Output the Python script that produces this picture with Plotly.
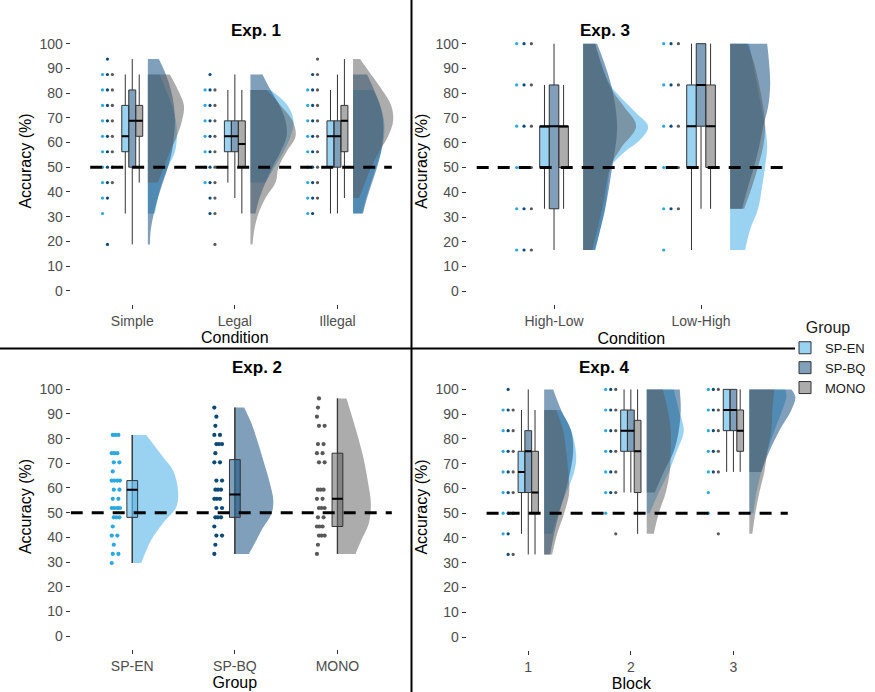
import plotly.graph_objects as go

# ---------------- common ----------------
GROUPS = ["SP-EN", "SP-BQ", "MONO"]
FILL = {"SP-EN": "rgba(86,180,233,0.6)", "SP-BQ": "rgba(22,80,130,0.55)", "MONO": "rgba(90,90,90,0.5)"}
DOT = {"SP-EN": "#29A9E1", "SP-BQ": "#0D4A77", "MONO": "#595959"}
Y_TICKS = [0, 10, 20, 30, 40, 50, 60, 70, 80, 90, 100]
CHANCE = 50

# ---------------- Exp. 1 ----------------
E1_CATS = ["Simple", "Legal", "Illegal"]
E1_Q1 = {"SP-EN": [56.25, 56.25, 50.0], "SP-BQ": [50.0, 56.25, 50.0], "MONO": [62.5, 50.0, 56.25]}
E1_MED = {"SP-EN": [62.5, 62.5, 62.5], "SP-BQ": [68.75, 62.5, 62.5], "MONO": [68.75, 59.375, 68.75]}
E1_Q3 = {"SP-EN": [75.0, 68.75, 68.75], "SP-BQ": [81.25, 68.75, 68.75], "MONO": [75.0, 68.75, 75.0]}
E1_LO = {"SP-EN": [31.25, 43.75, 31.25], "SP-BQ": [18.75, 37.5, 31.25], "MONO": [43.75, 31.25, 37.5]}
E1_HI = {"SP-EN": [87.5, 81.25, 81.25], "SP-BQ": [93.75, 87.5, 87.5], "MONO": [87.5, 81.25, 93.75]}
E1_DOTS = {
    "SP-EN": [[31.25, 37.5, 43.75, 50, 56.25, 62.5, 68.75, 75, 81.25, 87.5],
              [43.75, 50, 56.25, 62.5, 68.75, 75, 81.25],
              [31.25, 37.5, 43.75, 50, 56.25, 62.5, 68.75, 75, 81.25]],
    "SP-BQ": [[18.75, 37.5, 43.75, 50, 56.25, 62.5, 68.75, 75, 81.25, 87.5, 93.75],
              [31.25, 37.5, 43.75, 50, 56.25, 62.5, 68.75, 75, 81.25, 87.5],
              [31.25, 37.5, 43.75, 50, 56.25, 62.5, 68.75, 75, 81.25, 87.5]],
    "MONO": [[43.75, 50, 56.25, 62.5, 68.75, 75, 81.25, 87.5],
             [18.75, 31.25, 37.5, 43.75, 50, 56.25, 62.5, 68.75, 75, 81.25],
             [37.5, 43.75, 50, 56.25, 62.5, 68.75, 75, 81.25, 87.5, 93.75]],
}
# half-violin profiles: accuracy levels and relative density (width)
E1_VY = {
    "SP-EN": [[31.25, 37.5, 43.75, 50, 56.25, 62.5, 68.75, 75, 81.25, 87.5],
              [43.75, 50, 56.25, 62.5, 68.75, 75, 81.25],
              [31.25, 37.5, 43.75, 50, 56.25, 62.5, 68.75, 75, 81.25]],
    "SP-BQ": [[18.75, 25, 31.25, 37.5, 43.75, 50, 56.25, 62.5, 68.75, 75, 81.25, 87.5, 93.75],
              [31.25, 37.5, 43.75, 50, 56.25, 62.5, 68.75, 75, 81.25, 87.5],
              [31.25, 37.5, 43.75, 50, 56.25, 62.5, 68.75, 75, 81.25, 87.5]],
    "MONO": [[43.75, 50, 56.25, 62.5, 68.75, 75, 81.25, 87.5],
             [18.75, 25, 31.25, 37.5, 43.75, 50, 56.25, 62.5, 68.75, 75, 81.25],
             [37.5, 43.75, 50, 56.25, 62.5, 68.75, 75, 81.25, 87.5, 93.75]],
}
E1_VW = {
    "SP-EN": [[7, 10, 14, 20, 27, 29, 28, 24, 18, 12],
              [15, 24, 33, 40, 43, 37, 20],
              [9, 13, 18, 23, 28, 31, 31, 27, 20]],
    "SP-BQ": [[2, 3, 6, 10, 15, 20, 24, 26, 27, 26, 23, 18, 11],
              [5, 9, 15, 22, 30, 36, 35, 29, 20, 12],
              [10, 14, 19, 24, 28, 30, 30, 27, 21, 14]],
    "MONO": [[10, 16, 22, 29, 34, 36, 30, 22],
             [2, 4, 8, 15, 25, 28, 36, 45, 42, 30, 16],
             [6, 12, 18, 26, 35, 40, 38, 29, 18, 7]],
}

# ---------------- Exp. 2 ----------------
E2_CATS = ["SP-EN", "SP-BQ", "MONO"]
E2_VALUES = {
    "SP-EN": [81.5, 81.5, 81.5, 74.1, 74.1, 74.1, 70.4, 70.4, 66.7, 63.0, 63.0, 63.0, 63.0,
              59.3, 59.3, 55.6, 55.6, 51.9, 51.9, 51.9, 51.9, 48.1, 48.1, 48.1, 44.4,
              40.7, 40.7, 37.0, 33.3, 33.3, 29.6],
    "SP-BQ": [92.6, 88.9, 85.2, 81.5, 81.5, 77.8, 77.8, 77.8, 74.1, 70.4, 70.4, 63.0, 63.0,
              59.3, 59.3, 59.3, 55.6, 55.6, 55.6, 51.9, 51.9, 48.1, 48.1, 48.1, 44.4,
              40.7, 40.7, 37.0, 33.3],
    "MONO": [96.3, 92.6, 88.9, 85.2, 85.2, 77.8, 77.8, 74.1, 74.1, 70.4, 70.4, 59.3, 59.3, 59.3,
             55.6, 55.6, 51.9, 51.9, 51.9, 48.1, 48.1, 44.4, 44.4, 44.4, 40.7, 40.7, 40.7,
             37.0, 33.3],
}
E2_Q1 = [48.1, 48.1, 44.4]
E2_MED = [59.3, 57.4, 55.6]
E2_Q3 = [63.0, 71.5, 74.1]
E2_LO = [29.6, 33.3, 33.3]
E2_HI = [81.5, 92.6, 96.3]
E2_VY = {
    "SP-EN": [29.6, 32.3, 39, 45.7, 52.4, 59.2, 67.2, 72.6, 81.5],
    "SP-BQ": [33.3, 37.7, 43, 49.8, 55.1, 61.8, 69.9, 78, 86, 92.6],
    "MONO": [33.3, 39, 45.7, 53.8, 61.8, 72.6, 86, 96.3],
}
E2_VW = {
    "SP-EN": [9, 11.6, 19, 30.6, 44, 45.6, 40.6, 30.6, 14],
    "SP-BQ": [14, 20, 26.7, 36.7, 38.3, 35, 29.3, 23.3, 16.7, 9.3],
    "MONO": [18, 24, 31.3, 33.3, 30.7, 25.7, 16.7, 9],
}

# ---------------- Exp. 3 ----------------
E3_CATS = ["High-Low", "Low-High"]
E3_Q1 = {"SP-EN": [50.0, 50.0], "SP-BQ": [33.33, 66.67], "MONO": [50.0, 50.0]}
E3_MED = {"SP-EN": [66.67, 66.67], "SP-BQ": [66.67, 83.33], "MONO": [66.67, 66.67]}
E3_Q3 = {"SP-EN": [66.67, 83.33], "SP-BQ": [83.33, 100.0], "MONO": [66.67, 83.33]}
E3_LO = {"SP-EN": [33.33, 16.67], "SP-BQ": [16.67, 33.33], "MONO": [33.33, 33.33]}
E3_HI = {"SP-EN": [83.33, 100.0], "SP-BQ": [100.0, 100.0], "MONO": [83.33, 100.0]}
E3_DOTS = {
    "SP-EN": [[16.67, 33.33, 50, 66.67, 83.33, 100], [16.67, 33.33, 50, 66.67, 83.33, 100]],
    "SP-BQ": [[16.67, 33.33, 50, 66.67, 83.33, 100], [33.33, 50, 66.67, 83.33, 100]],
    "MONO": [[16.67, 33.33, 50, 66.67, 83.33, 100], [33.33, 50, 66.67, 83.33, 100]],
}
E3_VY = {
    "SP-EN": [[16.67, 25, 33.33, 43.7, 50.4, 55.8, 61.2, 66.5, 72.4, 78.6, 83.33, 92, 100],
              [16.67, 25, 33.33, 42.4, 50.4, 58.5, 66.5, 74.6, 83.33, 92, 100]],
    "SP-BQ": [[16.67, 33.33, 50, 66.67, 83.33, 100],
              [33.33, 42.4, 50.4, 58.5, 66.5, 74.6, 83.33, 92, 100]],
    "MONO": [[16.67, 33.33, 50, 58, 66.67, 75, 83.33, 100],
             [33.33, 42.4, 50.4, 58.5, 66.5, 74.6, 83.33, 92, 100]],
}
E3_VW = {
    "SP-EN": [[12, 17, 22, 25, 28, 40, 57, 65, 52, 37, 27, 18, 12],
              [15, 20, 28, 32, 35, 37, 35, 31, 27, 23, 19]],
    "SP-BQ": [[12, 22, 29, 34, 28, 14],
              [12, 18, 24, 29, 33, 38, 40, 39, 37]],
    "MONO": [[9, 19, 27, 38, 53, 40, 26, 12],
             [14, 22, 28, 33, 35, 33, 29, 24, 17]],
}

# ---------------- Exp. 4 ----------------
E4_CATS = ["1", "2", "3"]
E4_Q1 = {"SP-EN": [58.33, 75.0, 83.33], "SP-BQ": [58.33, 75.0, 83.33], "MONO": [50.0, 58.33, 75.0]}
E4_MED = {"SP-EN": [66.67, 83.33, 91.67], "SP-BQ": [75.0, 83.33, 91.67], "MONO": [58.33, 75.0, 83.33]}
E4_Q3 = {"SP-EN": [75.0, 91.67, 100.0], "SP-BQ": [83.33, 91.67, 100.0], "MONO": [75.0, 87.5, 91.67]}
E4_LO = {"SP-EN": [41.67, 58.33, 66.67], "SP-BQ": [33.33, 58.33, 66.67], "MONO": [33.33, 41.67, 66.67]}
E4_HI = {"SP-EN": [91.67, 100.0, 100.0], "SP-BQ": [100.0, 100.0, 100.0], "MONO": [91.67, 100.0, 100.0]}
E4_DOTS = {
    "SP-EN": [[41.67, 50, 58.33, 66.67, 75, 83.33, 91.67],
              [50, 58.33, 66.67, 75, 83.33, 91.67, 100],
              [50, 58.33, 66.67, 75, 83.33, 91.67, 100]],
    "SP-BQ": [[33.33, 41.67, 50, 58.33, 66.67, 75, 83.33, 91.67, 100],
              [58.33, 66.67, 75, 83.33, 91.67, 100],
              [66.67, 75, 83.33, 91.67, 100]],
    "MONO": [[33.33, 50, 58.33, 66.67, 75, 83.33, 91.67],
             [41.67, 58.33, 66.67, 75, 83.33, 91.67, 100],
             [41.67, 66.67, 75, 83.33, 91.67, 100]],
}
E4_VY = {
    "SP-EN": [[41.67, 50, 58.33, 66.67, 73.4, 83.33, 91.67],
              [50, 58.33, 66.67, 75, 83.33, 91.67, 100],
              [50, 58.33, 66.67, 75, 83.33, 91.67, 97, 100]],
    "SP-BQ": [[33.33, 41.67, 50, 58.33, 66.67, 75, 83.33, 91.67, 100],
              [58.33, 66.67, 75, 83.33, 91.67, 100],
              [66.67, 75, 83.33, 91.67, 97, 100]],
    "MONO": [[33.33, 41.67, 50, 58.33, 66.67, 75, 83.33, 91.67],
             [41.67, 50, 58.33, 66.67, 75, 83.33, 91.67, 100],
             [41.67, 50, 58.33, 66.67, 75, 83.33, 91.67, 100]],
}
E4_VW = {
    "SP-EN": [[8, 14, 22, 30, 32, 27, 16],
              [3, 12, 22, 30, 37, 32, 27],
              [4, 7, 12, 18, 25, 33, 37, 36]],
    "SP-BQ": [[6, 10, 15, 21, 26, 29, 27, 17, 9],
              [8, 17, 27, 32, 34, 33],
              [12, 20, 30, 42, 46, 42]],
    "MONO": [[8, 13, 20, 25, 24, 22, 19, 12],
             [7, 12, 19, 23, 24, 24, 21, 16],
             [3, 6, 10, 15, 18, 22, 23, 25]],
}

FONT = "Liberation Sans, Arial, sans-serif"
fig = go.Figure()


def add_violin(x0, ys, ws, scale, color, xa, ya):
    fig.add_trace(go.Scatter(x=[x0, x0], y=[ys[0], ys[-1]], mode="lines",
                             line=dict(width=0, color=color), showlegend=False,
                             hoverinfo="skip", xaxis=xa, yaxis=ya))
    fig.add_trace(go.Scatter(x=[x0 + w * scale for w in ws], y=ys, mode="lines",
                             line=dict(width=0, color=color, shape="spline", smoothing=1.0),
                             fill="tonextx", fillcolor=color, showlegend=False,
                             hoverinfo="skip", xaxis=xa, yaxis=ya))


def dodged_panel(xa, ya, ncat, dots, q1, med, q3, lo, hi, vy, vw, p, legend):
    for g in GROUPS:
        for ci in range(ncat):
            add_violin(ci + 1 + p["voff"], vy[g][ci], vw[g][ci], p["scale"], FILL[g], xa, ya)
    mx, my = [], []
    for gi, g in enumerate(GROUPS):
        xs = [c + (gi - 1) * p["boff"] for c in range(1, ncat + 1)]
        fig.add_trace(go.Box(x=xs, q1=q1[g], median=med[g], q3=q3[g],
                             lowerfence=lo[g], upperfence=hi[g], width=p["bw"],
                             fillcolor=FILL[g], line=dict(color="#333333", width=1),
                             whiskerwidth=0, name=g, legendgroup=g, showlegend=legend,
                             hoverinfo="skip", xaxis=xa, yaxis=ya, zorder=2))
        for x, m in zip(xs, med[g]):
            mx += [x - p["bw"] / 2, x + p["bw"] / 2, None]
            my += [m, m, None]
        dx, dy = [], []
        for ci in range(ncat):
            for v in dots[g][ci]:
                dx.append(ci + 1 + p["dot0"] + gi * p["dstep"])
                dy.append(v)
        fig.add_trace(go.Scatter(x=dx, y=dy, mode="markers",
                                 marker=dict(size=3.2, color=DOT[g]), showlegend=False,
                                 hoverinfo="skip", xaxis=xa, yaxis=ya, zorder=4))
    fig.add_trace(go.Scatter(x=mx, y=my, mode="lines", line=dict(color="black", width=2),
                             showlegend=False, hoverinfo="skip", xaxis=xa, yaxis=ya, zorder=3))
    fig.add_trace(go.Scatter(x=p["hline"], y=[CHANCE, CHANCE], mode="lines",
                             line=dict(color="black", width=3, dash="12px,9px"),
                             showlegend=False, hoverinfo="skip", xaxis=xa, yaxis=ya, zorder=5))


dodged_panel("x", "y", 3, E1_DOTS, E1_Q1, E1_MED, E1_Q3, E1_LO, E1_HI, E1_VY, E1_VW,
             dict(voff=0.152, scale=1 / 102.3, boff=0.068, bw=0.068, dot0=-0.29, dstep=0.048,
                  hline=[0.59, 3.53]), True)
dodged_panel("x2", "y2", 2, E3_DOTS, E3_Q1, E3_MED, E3_Q3, E3_LO, E3_HI, E3_VY, E3_VW,
             dict(voff=0.198, scale=1 / 147.0, boff=0.065, bw=0.065, dot0=-0.254, dstep=0.05,
                  hline=[0.474, 2.59]), False)
dodged_panel("x4", "y4", 3, E4_DOTS, E4_Q1, E4_MED, E4_Q3, E4_LO, E4_HI, E4_VY, E4_VW,
             dict(voff=0.155, scale=1 / 102.5, boff=0.066, bw=0.066, dot0=-0.245, dstep=0.049,
                  hline=[0.594, 3.53]), False)

# Exp 2 (one group per category)
E2_BW = 0.105
SPREAD = [0.0, 0.055, 0.025, 0.08, 0.04]
mx, my = [], []
for gi, g in enumerate(GROUPS):
    c = gi + 1
    add_violin(c, E2_VY[g], E2_VW[g], 1 / 102.3, FILL[g], "x3", "y3")
    fig.add_trace(go.Scatter(x=[c, c], y=[E2_LO[gi], E2_HI[gi]], mode="lines",
                             line=dict(color="#4D4D4D", width=1.3), showlegend=False,
                             hoverinfo="skip", xaxis="x3", yaxis="y3", zorder=1))
    fig.add_trace(go.Box(x=[c], q1=[E2_Q1[gi]], median=[E2_MED[gi]], q3=[E2_Q3[gi]],
                         lowerfence=[E2_LO[gi]], upperfence=[E2_HI[gi]], width=E2_BW,
                         fillcolor=FILL[g], line=dict(color="#333333", width=1),
                         whiskerwidth=0, name=g, legendgroup=g, showlegend=False,
                         hoverinfo="skip", xaxis="x3", yaxis="y3", zorder=2))
    mx += [c - E2_BW / 2, c + E2_BW / 2, None]
    my += [E2_MED[gi], E2_MED[gi], None]
    dx, dy = [], []
    levels = sorted(set(E2_VALUES[g]))
    for li, v in enumerate(levels):
        k = E2_VALUES[g].count(v)
        for j in range(k):
            dx.append(c - 0.2 + (li % 3) * 0.01 + SPREAD[j])
            dy.append(v)
    fig.add_trace(go.Scatter(x=dx, y=dy, mode="markers", marker=dict(size=4.2, color=DOT[g]),
                             showlegend=False, hoverinfo="skip", xaxis="x3", yaxis="y3", zorder=4))
fig.add_trace(go.Scatter(x=mx, y=my, mode="lines", line=dict(color="black", width=2),
                         showlegend=False, hoverinfo="skip", xaxis="x3", yaxis="y3", zorder=3))
fig.add_trace(go.Scatter(x=[0.4, 3.53], y=[CHANCE, CHANCE], mode="lines",
                         line=dict(color="black", width=3, dash="12px,9px"),
                         showlegend=False, hoverinfo="skip", xaxis="x3", yaxis="y3", zorder=5))

W, H = 875, 692


def xdom(a, b):
    return [a / W, b / W]


def ydom(top, bottom):
    return [1 - bottom / H, 1 - top / H]


def xaxis(dom, anchor, rng, labels, title):
    return dict(domain=dom, anchor=anchor, range=rng, tickmode="array",
                tickvals=list(range(1, len(labels) + 1)), ticktext=labels,
                showline=True, linecolor="#333333", linewidth=1, ticks="outside", ticklen=4,
                tickcolor="#333333", tickfont=dict(size=14, color="#4D4D4D", family=FONT),
                title=dict(text=title, font=dict(size=16, color="black", family=FONT), standoff=4),
                showgrid=False, zeroline=False, automargin=False, fixedrange=True)


def yaxis(dom, anchor):
    return dict(domain=dom, anchor=anchor, range=[-5.25, 110.25], tickmode="array",
                tickvals=Y_TICKS, ticktext=[str(t) for t in Y_TICKS],
                showline=True, linecolor="#333333", linewidth=1, ticks="outside", ticklen=4,
                tickcolor="#333333", tickfont=dict(size=14, color="#4D4D4D", family=FONT),
                title=dict(text="Accuracy (%)", font=dict(size=16, color="black", family=FONT),
                           standoff=3),
                showgrid=False, zeroline=False, automargin=False, fixedrange=True)


fig.update_layout(
    width=W, height=H, margin=dict(l=0, r=0, t=0, b=0),
    paper_bgcolor="white", plot_bgcolor="white",
    font=dict(family=FONT, color="black"),
    boxmode="overlay",
    xaxis=xaxis(xdom(70.7, 399), "y", [0.4, 3.6], E1_CATS, "Condition"),
    yaxis=yaxis(ydom(18.3, 303.7), "x"),
    xaxis2=xaxis(xdom(466.7, 796), "y2", [0.406, 2.646], E3_CATS, "Condition"),
    yaxis2=yaxis(ydom(18.3, 304.3), "x2"),
    xaxis3=xaxis(xdom(70.7, 399), "y3", [0.4, 3.6], E2_CATS, "Group"),
    yaxis3=yaxis(ydom(364, 649), "x3"),
    xaxis4=xaxis(xdom(466.7, 796), "y4", [0.4, 3.61], E4_CATS, "Block"),
    yaxis4=yaxis(ydom(364, 650), "x4"),
    legend=dict(title=dict(text="Group", font=dict(size=16, family=FONT), side="top center"),
                x=785 / W, y=1 - 312 / H, xanchor="left", yanchor="top",
                font=dict(size=13, family=FONT, color="#1a1a1a"),
                bgcolor="rgba(0,0,0,0)", tracegroupgap=0),
    annotations=[
        dict(text="<b>Exp. 1</b>", x=229 / W, y=1 - 19 / H, xref="paper", yref="paper",
             showarrow=False, font=dict(size=17, family=FONT)),
        dict(text="<b>Exp. 3</b>", x=631.7 / W, y=1 - 19 / H, xref="paper", yref="paper",
             showarrow=False, font=dict(size=17, family=FONT)),
        dict(text="<b>Exp. 2</b>", x=229.5 / W, y=1 - 368 / H, xref="paper", yref="paper",
             showarrow=False, font=dict(size=17, family=FONT)),
        dict(text="<b>Exp. 4</b>", x=632 / W, y=1 - 367.5 / H, xref="paper", yref="paper",
             showarrow=False, font=dict(size=17, family=FONT)),
    ],
    shapes=[
        dict(type="line", xref="paper", yref="paper", x0=411.5 / W, x1=411.5 / W, y0=0, y1=1,
             line=dict(color="black", width=2)),
        dict(type="line", xref="paper", yref="paper", x0=0, x1=795 / W,
             y0=1 - 348.5 / H, y1=1 - 348.5 / H, line=dict(color="black", width=2)),
    ],
)

fig.write_html("out.html", config={"displayModeBar": False},
               post_script="document.body.style.margin='0';")
